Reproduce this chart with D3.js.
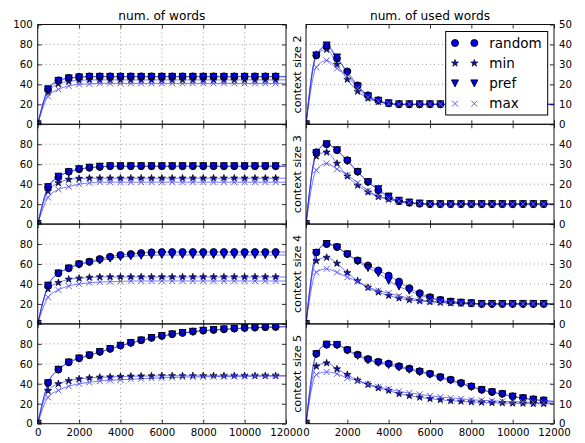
<!DOCTYPE html>
<html>
<head>
<meta charset="utf-8">
<script src="https://cdn.jsdelivr.net/npm/d3@7"></script>
<style>
  body { margin: 0; background: #fff; }
  svg { display: block; font-family: "DejaVu Sans", sans-serif; }
</style>
</head>
<body>
<svg id="chart" width="585" height="443"></svg>
<script>
// Sample positions (number of processed items)
const steps = [0, 500, 1000, 1500, 2000, 2500, 3000, 3500, 4000, 4500, 5000, 5500,
               6000, 6500, 7000, 7500, 8000, 8500, 9000, 9500, 10000, 10500, 11000, 11500];
const seriesNames = ["random", "min", "pref", "max"];
const contextSizes = [2, 3, 4, 5];
const xTicks = [0, 2000, 4000, 6000, 8000, 10000, 12000];
const wordTicksTop = [0, 20, 40, 60, 80, 100];
const wordTicks = [0, 20, 40, 60, 80];
const usedTicksTop = [0, 10, 20, 30, 40, 50];
const usedTicks = [0, 10, 20, 30, 40];

// num. of words, context size 2
const wordsC2Random = [0, 35, 44, 46.5, 47.5, 48, 48, 48, 48, 48, 48, 48, 48, 48, 48, 48, 48, 48, 48, 48, 48, 48, 48, 48];
const wordsC2Min    = [0, 32, 40.5, 43, 44, 44.5, 44.5, 44.5, 44.5, 44.5, 44.5, 44.5, 44.5, 44.5, 44.5, 44.5, 44.5, 44.5, 44.5, 44.5, 44.5, 44.5, 44.5, 44.5];
const wordsC2Pref   = [0, 35, 43.5, 46, 47, 47.5, 47.5, 47.5, 47.5, 47.5, 47.5, 47.5, 47.5, 47.5, 47.5, 47.5, 47.5, 47.5, 47.5, 47.5, 47.5, 47.5, 47.5, 47.5];
const wordsC2Max    = [0, 28, 35, 38.5, 40, 40.5, 41, 41, 41, 41, 41, 41, 41, 41, 41, 41, 41, 41, 41, 41, 41, 41, 41, 41];
// num. of used words, context size 2
const usedC2Random = [0, 34.5, 39, 33, 26.5, 19.5, 14.5, 12, 10.5, 10, 10, 10, 10, 10, 10, 10, 10, 10, 10, 10, 10, 10, 10, 10];
const usedC2Min    = [0, 35, 37.5, 30, 22.5, 16.5, 13, 11.3, 10.3, 10, 10, 10, 10, 10, 10, 10, 10, 10, 10, 10, 10, 10, 10, 10];
const usedC2Pref   = [0, 34.5, 39.5, 33.5, 25.5, 19, 14, 11.8, 10.5, 10, 10, 10, 10, 10, 10, 10, 10, 10, 10, 10, 10, 10, 10, 10];
const usedC2Max    = [0, 28.5, 32, 28, 24, 18, 13.5, 11.5, 10.3, 10, 10, 10, 10, 10, 10, 10, 10, 10, 10, 10, 10, 10, 10, 10];

// num. of words, context size 3
const wordsC3Random = [0, 37, 47, 52.5, 55, 56.5, 57.3, 58, 58, 58, 58, 58, 58, 58, 58, 58, 58, 58, 58, 58, 58, 58, 58, 58];
const wordsC3Min    = [0, 33, 41.3, 44.7, 45.7, 46, 46, 46, 46, 46, 46, 46, 46, 46, 46, 46, 46, 46, 46, 46, 46, 46, 46, 46];
const wordsC3Pref   = [0, 37, 47.5, 52, 55, 56.5, 57.5, 58, 58, 58, 58, 58, 58, 58, 58, 58, 58, 58, 58, 58, 58, 58, 58, 58];
const wordsC3Max    = [0, 26.7, 34.7, 37.5, 40, 41.3, 42, 42, 42, 42, 42, 42, 42, 42, 42, 42, 42, 42, 42, 42, 42, 42, 42, 42];
// num. of used words, context size 3
const usedC3Random = [0, 36, 40, 37, 32, 26.3, 21.2, 17, 13.4, 11.5, 10.7, 10.2, 10, 10, 10, 10, 10, 10, 10, 10, 10, 10, 10, 10];
const usedC3Min    = [0, 34, 36, 30.4, 24, 19.4, 16, 13.7, 12.4, 11.3, 10.6, 10.2, 10, 10, 10, 10, 10, 10, 10, 10, 10, 10, 10, 10];
const usedC3Pref   = [0, 35.5, 40, 37, 31.5, 26, 21, 17.5, 13.8, 11.7, 10.8, 10.3, 10, 10, 10, 10, 10, 10, 10, 10, 10, 10, 10, 10];
const usedC3Max    = [0, 27, 30.4, 27.5, 24.6, 20.7, 16.7, 14, 12.7, 11.5, 10.7, 10.2, 10, 10, 10, 10, 10, 10, 10, 10, 10, 10, 10, 10];

// num. of words, context size 4
const wordsC4Random = [0, 38.3, 50.7, 55.7, 60, 62.3, 65, 67.3, 69, 70, 71, 71.7, 72, 72, 72, 72, 72, 72, 72, 72, 72, 72, 72, 72];
const wordsC4Min    = [0, 35, 41.3, 44.7, 45.7, 46.5, 47, 47, 47, 47, 47, 47, 47, 47, 47, 47, 47, 47, 47, 47, 47, 47, 47, 47];
const wordsC4Pref   = [0, 38.3, 50.5, 55.5, 59.5, 61.5, 63.5, 65.5, 67, 67.7, 68.3, 68.7, 69, 69, 69, 69, 69, 69, 69, 69, 69, 69, 69, 69];
const wordsC4Max    = [0, 26.7, 34, 38, 40, 41.3, 42, 42.3, 42.5, 43, 43, 43, 43, 43, 43, 43, 43, 43, 43, 43, 43, 43, 43, 43];
// num. of used words, context size 4
const usedC4Random = [0, 35.8, 40, 38.5, 35, 31.8, 29.3, 26.8, 24.2, 21.2, 17.9, 15.4, 13.4, 12, 11.2, 10.7, 10.4, 10, 10, 10, 10, 10, 10, 10];
const usedC4Min    = [0, 31.6, 33.3, 30.3, 25.6, 21.6, 18.2, 15.9, 14.2, 12.9, 12, 11.5, 11, 10.7, 10.4, 10.2, 10, 10, 10, 10, 10, 10, 10, 10];
const usedC4Pref   = [0, 35.5, 40, 38.3, 34.8, 31.3, 28, 25.4, 21.6, 18.7, 16.6, 14.5, 12.9, 11.7, 11, 10.6, 10.3, 10, 10, 10, 10, 10, 10, 10];
const usedC4Max    = [0, 25.9, 27.6, 25.8, 23.4, 21.2, 18.4, 16.7, 15.4, 14, 12.9, 12, 11.4, 10.9, 10.5, 10.3, 10.1, 10, 10, 10, 10, 10, 10, 10];

// num. of words, context size 5
const wordsC5Random = [0, 40.8, 54.2, 61.5, 65.5, 68.6, 72, 75, 78.3, 81, 83.6, 86, 88, 89.7, 91, 92.3, 93.3, 94, 94.6, 95.3, 96, 96.3, 96.7, 97];
const wordsC5Min    = [0, 33, 40, 43, 44.8, 45.8, 46.5, 46.8, 47.2, 47.5, 47.7, 47.8, 48, 48, 48, 48, 48, 48, 48, 48, 48, 48, 48, 48];
const wordsC5Pref   = [0, 40.5, 54, 61.3, 65.3, 68.4, 71.8, 74.8, 78, 80.8, 83.4, 85.8, 87.8, 89.5, 90.8, 92.1, 93.1, 93.8, 94.5, 95.1, 95.7, 96.1, 96.5, 96.8];
const wordsC5Max    = [0, 26.4, 33.4, 37.5, 40, 41.5, 42.8, 43.5, 44, 44.5, 45, 45.5, 46, 46.3, 46.6, 46.8, 47, 47.2, 47.3, 47.4, 47.5, 47.6, 47.7, 47.8];
// num. of used words, context size 5
const usedC5Random = [0, 35, 39.6, 39.6, 37, 34.6, 32.4, 31, 30.1, 28.8, 27.6, 26.3, 25, 23.4, 22, 20.4, 18.7, 17, 15.9, 15, 13.7, 12.9, 12.2, 11.7];
const usedC5Min    = [0, 28.8, 30.4, 27.4, 24.6, 21.7, 19.6, 17.9, 16.6, 15, 14, 13.2, 12.5, 12, 11.5, 11.2, 10.9, 10.7, 10.5, 10.4, 10.2, 10.2, 10, 10];
const usedC5Pref   = [0, 34.8, 39.6, 39.4, 36.6, 34, 31.8, 30.5, 29.4, 28.2, 27, 25.8, 24.6, 23, 21.6, 20, 18.4, 16.8, 15.7, 14.7, 13.5, 12.7, 12, 11.5];
const usedC5Max    = [0, 24.6, 25.9, 25, 22.9, 21.6, 19.9, 18.4, 17.4, 16.2, 15.4, 14.7, 14, 13.4, 12.9, 12.5, 12, 11.7, 11.5, 11.2, 11, 10.9, 10.7, 10.5];

// One entry per row (context size): left and right panel series
const rows = [
  { words: [wordsC2Random, wordsC2Min, wordsC2Pref, wordsC2Max], used: [usedC2Random, usedC2Min, usedC2Pref, usedC2Max] },
  { words: [wordsC3Random, wordsC3Min, wordsC3Pref, wordsC3Max], used: [usedC3Random, usedC3Min, usedC3Pref, usedC3Max] },
  { words: [wordsC4Random, wordsC4Min, wordsC4Pref, wordsC4Max], used: [usedC4Random, usedC4Min, usedC4Pref, usedC4Max] },
  { words: [wordsC5Random, wordsC5Min, wordsC5Pref, wordsC5Max], used: [usedC5Random, usedC5Min, usedC5Pref, usedC5Max] }
];

const BLUE = "#0000ff";
const LIGHT = "#5a5aff";
const S = 3.5; // marker half-size

// Marker shapes, drawn around (0,0)
function starPath(r) {
  const ri = r * 0.381966, pts = [];
  for (let k = 0; k < 10; k++) {
    const a = -Math.PI / 2 + k * Math.PI / 5;
    const rr = k % 2 === 0 ? r : ri;
    pts.push([rr * Math.cos(a), rr * Math.sin(a)]);
  }
  return "M" + pts.map(p => p.join(",")).join("L") + "Z";
}
const markerStyles = [
  { draw: (g) => g.append("circle").attr("r", S).attr("fill", BLUE).attr("stroke", "#000").attr("stroke-width", 0.9) },
  { draw: (g) => g.append("path").attr("d", starPath(S + 0.2)).attr("fill", "#1010c0").attr("stroke", "#000").attr("stroke-width", 0.7) },
  { draw: (g) => g.append("path").attr("d", `M${-S},${-S}L${S},${-S}L0,${S}Z`).attr("fill", BLUE).attr("stroke", "#000").attr("stroke-width", 0.9) },
  { draw: (g) => g.append("path").attr("d", `M${-S + 0.5},${-S + 0.5}L${S - 0.5},${S - 0.5}M${-S + 0.5},${S - 0.5}L${S - 0.5},${-S + 0.5}`).attr("fill", "none").attr("stroke", LIGHT).attr("stroke-width", 1) }
];

const svg = d3.select("#chart");
const cols = [
  { x0: 37.7, x1: 286, max: 100 },
  { x0: 306, x1: 554, max: 50 }
];
const top0 = 24.5, ph = 99.8;
const defs = svg.append("defs");

rows.forEach((row, r) => {
  [row.words, row.used].forEach((panel, c) => {
    const col = cols[c];
    const y0 = top0 + r * ph, y1 = y0 + ph;
    const x = d3.scaleLinear().domain([0, 12000]).range([col.x0, col.x1]);
    const y = d3.scaleLinear().domain([0, col.max]).range([y1, y0]);
    const clipId = `clip-${r}-${c}`;
    defs.append("clipPath").attr("id", clipId)
      .append("rect").attr("x", col.x0).attr("y", y0)
      .attr("width", col.x1 - col.x0).attr("height", ph);

    const g = svg.append("g");
    const yTickVals = c === 0 ? (r === 0 ? wordTicksTop : wordTicks) : (r === 0 ? usedTicksTop : usedTicks);

    // grid
    const grid = g.append("g").attr("stroke", "#555").attr("stroke-width", 0.6)
      .attr("stroke-dasharray", "1,3");
    yTickVals.filter(v => v > 0 && v < col.max).forEach(v => {
      grid.append("line").attr("x1", col.x0).attr("x2", col.x1).attr("y1", y(v)).attr("y2", y(v));
    });
    if (c === 0) {
      xTicks.filter(v => v > 0 && v < 12000).forEach(v => {
        grid.append("line").attr("x1", x(v)).attr("x2", x(v)).attr("y1", y0).attr("y2", y1);
      });
    }

    const plot = g.append("g").attr("clip-path", `url(#${clipId})`);

    // smooth trend lines, carried on to the right edge along the last segment
    const line = d3.line().x(d => x(d[0])).y(d => y(d[1])).curve(d3.curveMonotoneX);
    panel.forEach(vals => {
      const pts = steps.map((s, i) => [s, vals[i]]);
      const n = vals.length;
      const slope = (vals[n - 1] - vals[n - 2]) / (steps[n - 1] - steps[n - 2]);
      pts.push([12000, vals[n - 1] + slope * (12000 - steps[n - 1])]);
      plot.append("path").attr("d", line(pts)).attr("fill", "none")
        .attr("stroke", "#2222ff").attr("stroke-opacity", 0.6).attr("stroke-width", 1);
    });

    // markers
    panel.forEach((vals, si) => {
      vals.forEach((v, i) => {
        const mg = plot.append("g").attr("transform", `translate(${x(steps[i])},${y(v)})`);
        markerStyles[si].draw(mg);
      });
    });

    // axes (inward ticks)
    const fmt = d3.format("d");
    const ax = g.append("g");
    ax.append("g").attr("transform", `translate(0,${y1})`)
      .call(d3.axisBottom(x).tickValues(xTicks).tickSizeInner(-4).tickSizeOuter(0).tickPadding(5.5)
        .tickFormat(r === 3 ? fmt : () => ""));
    ax.append("g").attr("transform", `translate(0,${y0})`)
      .call(d3.axisTop(x).tickValues(xTicks).tickSizeInner(-4).tickSizeOuter(0).tickFormat(() => ""));
    if (c === 0) {
      ax.append("g").attr("transform", `translate(${col.x0},0)`)
        .call(d3.axisLeft(y).tickValues(yTickVals).tickSizeInner(-4).tickSizeOuter(0).tickPadding(5).tickFormat(fmt));
      ax.append("g").attr("transform", `translate(${col.x1},0)`)
        .call(d3.axisRight(y).tickValues(yTickVals).tickSizeInner(-4).tickSizeOuter(0).tickFormat(() => ""));
    } else {
      ax.append("g").attr("transform", `translate(${col.x1},0)`)
        .call(d3.axisRight(y).tickValues(yTickVals).tickSizeInner(-4).tickSizeOuter(0).tickPadding(5).tickFormat(fmt));
    }
    ax.selectAll(".domain").remove();
    ax.selectAll(".tick line").attr("stroke", "#000").attr("stroke-width", 0.8);
    ax.selectAll("g").attr("font-family", "DejaVu Sans, sans-serif").attr("font-size", 10.2);
    ax.selectAll(".tick text").attr("fill", "#000");

    // frame
    g.append("rect").attr("x", col.x0).attr("y", y0).attr("width", col.x1 - col.x0).attr("height", ph)
      .attr("fill", "none").attr("stroke", "#111").attr("stroke-width", 1);

    if (c === 1) {
      svg.append("text")
        .attr("transform", `translate(300.5,${(y0 + y1) / 2}) rotate(-90)`)
        .attr("text-anchor", "middle").attr("font-size", 11.2).attr("fill", "#000")
        .text(`context size ${contextSizes[r]}`);
    }

    // legend in the top right panel
    if (r === 0 && c === 1) {
      const lg = svg.append("g");
      lg.append("rect").attr("x", 445.7).attr("y", 31.5).attr("width", 102).attr("height", 83.5)
        .attr("fill", "#fff").attr("stroke", "#000").attr("stroke-width", 1);
      seriesNames.forEach((name, si) => {
        const cy = 43 + si * 20.2;
        [455, 474.3].forEach(mx => {
          markerStyles[si].draw(lg.append("g").attr("transform", `translate(${mx},${cy})`));
        });
        lg.append("text").attr("x", 489.3).attr("y", cy + 4.6).attr("font-size", 13.5)
          .attr("fill", "#000").text(name);
      });
    }
  });
});

// column titles
svg.append("text").attr("x", (cols[0].x0 + cols[0].x1) / 2).attr("y", 20)
  .attr("text-anchor", "middle").attr("font-size", 12.2).text("num. of words");
svg.append("text").attr("x", (cols[1].x0 + cols[1].x1) / 2).attr("y", 20)
  .attr("text-anchor", "middle").attr("font-size", 12.2).text("num. of used words");
</script>
</body>
</html>
